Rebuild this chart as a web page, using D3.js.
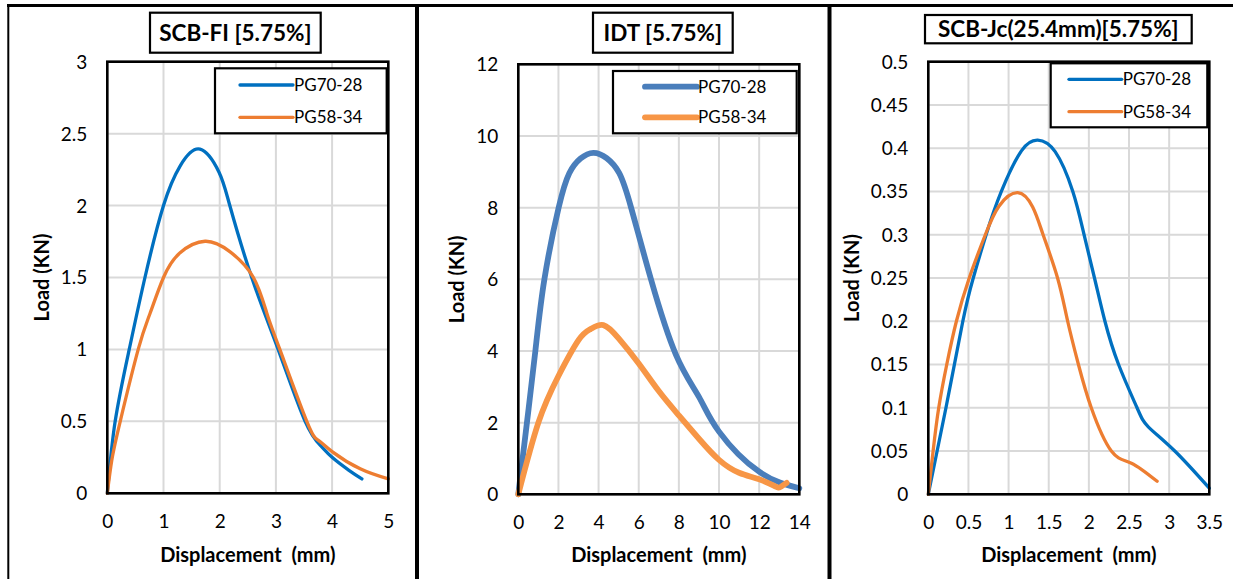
<!DOCTYPE html>
<html>
<head>
<meta charset="utf-8">
<script src="https://cdn.jsdelivr.net/npm/d3@7"></script>
<style>
  body { margin: 0; background: #fff; }
  svg { display: block; }
  text { font-family: Lato, "Open Sans", sans-serif; fill: #000; }
</style>
</head>
<body>
<svg id="fig" width="1233" height="579"></svg>
<script>
// ---- data -------------------------------------------------------------
const seriesNames = ["PG70-28", "PG58-34"];
const xAxisTitle = "Displacement  (mm)";
const yAxisTitle = "Load (KN)";

// SCB-FI [5.75%]
const scbFiTitle = "SCB-FI [5.75%]";
const scbFiXTicks = [0, 1, 2, 3, 4, 5];
const scbFiYTicks = [0, 0.5, 1, 1.5, 2, 2.5, 3];
const scbFiDisp70 = [0, 0.14, 0.39, 0.67, 1.0, 1.3, 1.65, 1.99, 2.18, 2.57, 3.04, 3.52, 3.8, 4.0, 4.3, 4.53];
const scbFiLoad70 = [0, 0.5, 1.0, 1.5, 2.0, 2.278, 2.392, 2.23, 2.0, 1.5, 1.0, 0.5, 0.33, 0.25, 0.16, 0.1];
const scbFiDisp58 = [0, 0.08, 0.23, 0.55, 0.76, 1.0, 1.29, 1.74, 2.18, 2.6, 2.84, 3.07, 3.55, 3.75, 4.0, 4.5, 5.0];
const scbFiLoad58 = [0, 0.23, 0.5, 1.0, 1.25, 1.5, 1.67, 1.752, 1.68, 1.5, 1.25, 1.0, 0.5, 0.37, 0.29, 0.17, 0.1];

// IDT [5.75%]
const idtTitle = "IDT [5.75%]";
const idtXTicks = [0, 2, 4, 6, 8, 10, 12, 14];
const idtYTicks = [0, 2, 4, 6, 8, 10, 12];
const idtDisp70 = [0, 0.43, 0.85, 1.3, 2.01, 2.54, 3.1, 3.74, 4.4, 5.03, 5.62, 6.61, 7.85, 9.0, 10.0, 12.0, 14.0];
const idtLoad70 = [0, 2.0, 4.0, 6.0, 8.0, 8.96, 9.37, 9.53, 9.38, 8.96, 8.0, 6.0, 3.9, 2.72, 1.75, 0.63, 0.17];
const idtDisp58 = [0, 1.0, 2.0, 3.0, 3.6, 4.24, 5.0, 6.0, 7.0, 8.0, 9.0, 10.0, 11.0, 12.0, 12.8, 13.05, 13.37];
const idtLoad58 = [0, 2.0, 3.3, 4.3, 4.61, 4.72, 4.35, 3.65, 2.88, 2.2, 1.55, 0.96, 0.6, 0.42, 0.22, 0.2, 0.32];

// SCB-Jc(25.4mm) [5.75%]
const jcTitle = "SCB-Jc(25.4mm)[5.75%]";
const jcXTicks = [0, 0.5, 1, 1.5, 2, 2.5, 3, 3.5];
const jcYTicks = [0, 0.05, 0.1, 0.15, 0.2, 0.25, 0.3, 0.35, 0.4, 0.45, 0.5];
const jcDisp70 = [0, 0.22, 0.43, 0.56, 0.72, 0.91, 1.16, 1.363, 1.58, 1.80, 1.94, 2.07, 2.2, 2.37, 2.6, 2.74, 3.07, 3.5];
const jcLoad70 = [0, 0.1, 0.2, 0.25, 0.3, 0.35, 0.397, 0.4094, 0.396, 0.35, 0.3, 0.25, 0.2, 0.15, 0.1, 0.078, 0.05, 0.007];
const jcDisp58 = [0, 0.06, 0.13, 0.23, 0.35, 0.51, 0.71, 0.88, 1.113, 1.3, 1.43, 1.61, 1.736, 1.87, 2.03, 2.28, 2.53, 2.85];
const jcLoad58 = [0, 0.05, 0.1, 0.15, 0.2, 0.25, 0.3, 0.333, 0.3486, 0.332, 0.3, 0.25, 0.2, 0.15, 0.1, 0.05, 0.036, 0.015];

// ---- layout -----------------------------------------------------------
const panels = [
  {
    title: scbFiTitle, xTicks: scbFiXTicks, yTicks: scbFiYTicks,
    series: [[scbFiDisp70, scbFiLoad70], [scbFiDisp58, scbFiLoad58]],
    colors: ["#0070C0", "#ED7D31"], width: 3.3,
    plot: { x0: 107.3, y0: 61.7, x1: 388.3, y1: 493.3 },
    titleBox: { x: 150, y: 12.7, w: 170.7, h: 40 },
    legend: { x: 215, y: 68.3, w: 171.7, h: 65, lx0: 240, lx1: 293, rows: [85, 117.3] },
    yTitleX: 42
  },
  {
    title: idtTitle, xTicks: idtXTicks, yTicks: idtYTicks,
    series: [[idtDisp70, idtLoad70], [idtDisp58, idtLoad58]],
    colors: ["#4A7EBB", "#F79646"], width: 5.8,
    plot: { x0: 518.3, y0: 64.3, x1: 799.3, y1: 494.3 },
    titleBox: { x: 593, y: 12.7, w: 139.7, h: 40 },
    legend: { x: 613, y: 71, w: 183.7, h: 62.3, lx0: 645, lx1: 697, rows: [86.7, 117.3] },
    yTitleX: 457
  },
  {
    title: jcTitle, xTicks: jcXTicks, yTicks: jcYTicks,
    series: [[jcDisp70, jcLoad70], [jcDisp58, jcLoad58]],
    colors: ["#0070C0", "#ED7D31"], width: 3.3,
    plot: { x0: 928.3, y0: 61.7, x1: 1209.3, y1: 494.3 },
    titleBox: { x: 925, y: 15, w: 266.7, h: 28.3 },
    legend: { x: 1050.7, y: 63.3, w: 156.6, h: 64, lx0: 1069, lx1: 1121.7, rows: [79.3, 111.7] },
    yTitleX: 852
  }
];

const svg = d3.select("#fig");

// outer frame of the figure
const frame = svg.append("g").attr("stroke", "#000").attr("fill", "none");
frame.append("line").attr("x1", 7).attr("x2", 1233).attr("y1", 5.5).attr("y2", 5.5).attr("stroke-width", 3);
frame.append("line").attr("x1", 8.3).attr("x2", 8.3).attr("y1", 4).attr("y2", 579).attr("stroke-width", 2);
frame.append("line").attr("x1", 417).attr("x2", 417).attr("y1", 4).attr("y2", 579).attr("stroke-width", 4);
frame.append("line").attr("x1", 829.5).attr("x2", 829.5).attr("y1", 4).attr("y2", 579).attr("stroke-width", 4);

panels.forEach(p => {
  const g = svg.append("g");
  const xDom = d3.extent(p.xTicks), yDom = d3.extent(p.yTicks);
  const x = d3.scaleLinear().domain(xDom).range([p.plot.x0, p.plot.x1]);
  const y = d3.scaleLinear().domain(yDom).range([p.plot.y1, p.plot.y0]);
  const fmt = d => String(+d.toFixed(2));

  // gridlines
  const grid = g.append("g").attr("stroke", "#d9d9d9").attr("stroke-width", 2);
  grid.selectAll(".gx").data(p.xTicks).join("line")
    .attr("x1", d => x(d)).attr("x2", d => x(d))
    .attr("y1", p.plot.y0).attr("y2", p.plot.y1);
  grid.selectAll(".gy").data(p.yTicks).join("line")
    .attr("x1", p.plot.x0).attr("x2", p.plot.x1)
    .attr("y1", d => y(d)).attr("y2", d => y(d));

  // axes (labels only; Excel-style, no tick marks)
  const xAxis = g.append("g").attr("transform", `translate(0,${p.plot.y1 + 35})`)
    .call(d3.axisBottom(x).tickValues(p.xTicks).tickFormat(fmt).tickSize(0).tickPadding(0));
  xAxis.select(".domain").remove();
  xAxis.selectAll("text").attr("font-size", 19).attr("dy", 0).attr("fill", "#000");

  const yAxis = g.append("g").attr("transform", `translate(${p.plot.x0 - 20},0)`)
    .call(d3.axisLeft(y).tickValues(p.yTicks).tickFormat(fmt).tickSize(0).tickPadding(0));
  yAxis.select(".domain").remove();
  yAxis.selectAll("text").attr("font-size", 19).attr("dy", "0.34em").attr("fill", "#000");

  // series curves (natural spline through the measured points)
  const line = d3.line().x(d => x(d[0])).y(d => y(d[1])).curve(d3.curveNatural);
  p.series.forEach((s, i) => {
    const pts = s[0].map((v, k) => [v, s[1][k]]);
    g.append("path").datum(pts).attr("d", line)
      .attr("fill", "none").attr("stroke", p.colors[i])
      .attr("stroke-width", p.width).attr("stroke-linecap", "round").attr("stroke-linejoin", "round");
  });

  // plot-area border
  g.append("rect").attr("x", p.plot.x0).attr("y", p.plot.y0)
    .attr("width", p.plot.x1 - p.plot.x0).attr("height", p.plot.y1 - p.plot.y0)
    .attr("fill", "none").attr("stroke", "#000").attr("stroke-width", 2.6);

  // legend
  const L = p.legend;
  g.append("rect").attr("x", L.x).attr("y", L.y).attr("width", L.w).attr("height", L.h)
    .attr("fill", "#fff").attr("stroke", "#000").attr("stroke-width", 2.2);
  seriesNames.forEach((name, i) => {
    g.append("line").attr("x1", L.lx0).attr("x2", L.lx1).attr("y1", L.rows[i]).attr("y2", L.rows[i])
      .attr("stroke", p.colors[i]).attr("stroke-width", p.width).attr("stroke-linecap", "round");
    g.append("text").attr("x", L.lx1 + 1).attr("y", L.rows[i]).attr("dy", "0.35em")
      .attr("font-size", 17).text(name);
  });

  // title box
  const T = p.titleBox;
  g.append("rect").attr("x", T.x).attr("y", T.y).attr("width", T.w).attr("height", T.h)
    .attr("fill", "#fff").attr("stroke", "#000").attr("stroke-width", 2.2);
  g.append("text").attr("x", T.x + T.w / 2).attr("y", T.y + T.h / 2).attr("dy", "0.36em")
    .attr("text-anchor", "middle").attr("font-size", 22.5).attr("font-weight", "bold").text(p.title);

  // axis titles
  g.append("text").attr("x", (p.plot.x0 + p.plot.x1) / 2).attr("y", 561.5)
    .attr("text-anchor", "middle").attr("font-size", 20).attr("font-weight", "bold")
    .attr("xml:space", "preserve").style("white-space", "pre").text(xAxisTitle);
  g.append("text").attr("transform", `translate(${p.yTitleX},${(p.plot.y0 + p.plot.y1) / 2}) rotate(-90)`)
    .attr("dy", "0.35em").attr("text-anchor", "middle").attr("font-size", 20).attr("font-weight", "bold")
    .text(yAxisTitle);
});
</script>
</body>
</html>
